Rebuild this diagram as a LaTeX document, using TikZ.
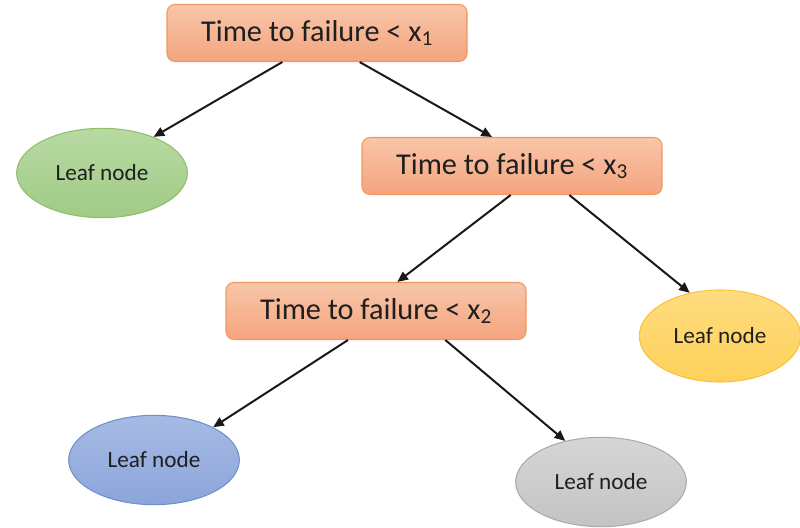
\documentclass[tikz,border=0pt]{standalone}
\usepackage{fontspec}
\setmainfont{Carlito}
\usepackage{xcolor}
\definecolor{SplitTop}{HTML}{F8C6A9}
\definecolor{SplitBottom}{HTML}{F4A47F}
\definecolor{SplitEdge}{HTML}{F0985F}
\definecolor{GreenTop}{HTML}{B8DAA3}
\definecolor{GreenBottom}{HTML}{A0CB86}
\definecolor{GreenEdge}{HTML}{8EC06C}
\definecolor{YellowTop}{HTML}{FFDC80}
\definecolor{YellowBottom}{HTML}{FFD15A}
\definecolor{YellowEdge}{HTML}{F9C33E}
\definecolor{BlueTop}{HTML}{A7BAE4}
\definecolor{BlueBottom}{HTML}{8BA5DA}
\definecolor{BlueEdge}{HTML}{6F90CF}
\definecolor{GrayTop}{HTML}{D6D6D6}
\definecolor{GrayBottom}{HTML}{C3C3C3}
\definecolor{GrayEdge}{HTML}{ABABAB}
\usetikzlibrary{shapes.geometric, arrows.meta}

\begin{document}
\begin{tikzpicture}[
  x=0.75pt, y=-0.75pt,
  split/.style={rectangle, rounded corners=6pt, draw=SplitEdge, top color=SplitTop, bottom color=SplitBottom, line width=0.8pt, minimum width=225pt, minimum height=42.75pt, text=black!88, font=\fontsize{22.7}{27}\selectfont},
  leaf/.style={ellipse, line width=0.8pt, minimum width=128pt, minimum height=67pt, text=black!88, font=\fontsize{17.4}{21}\selectfont},
  arrow/.style={-{Triangle[length=8pt,width=7pt]}, line width=1.5pt, black!90}
]
  \useasboundingbox (0,0) rectangle (800,528);

  % Splits
  \node[split] (root) at (317,33) {Time to failure < x\textsubscript{1}};
  \node[split] (splitC) at (512,166) {Time to failure < x\textsubscript{3}};
  \node[split] (splitB) at (376,311) {Time to failure < x\textsubscript{2}};

  % Leaves
  \node[leaf, draw=GreenEdge, top color=GreenTop, bottom color=GreenBottom] (leafA) at (102,173) {Leaf node};
  \node[leaf, draw=YellowEdge, top color=YellowTop, bottom color=YellowBottom, minimum width=121pt, minimum height=69pt] (leafC) at (720,336) {Leaf node};
  \node[leaf, draw=BlueEdge, top color=BlueTop, bottom color=BlueBottom] (leafB) at (154,460) {Leaf node};
  \node[leaf, draw=GrayEdge, top color=GrayTop, bottom color=GrayBottom] (leafD) at (601,482) {Leaf node};

  % Arrows
  \draw[arrow] ([xshift=-26pt]root.south) -- (leafA.35);
  \draw[arrow] ([xshift=32pt]root.south) -- ([xshift=-15pt]splitC.north);
  \draw[arrow] ([xshift=-1pt]splitC.south) -- ([xshift=16pt]splitB.north);
  \draw[arrow] ([xshift=43pt]splitC.south) -- (leafC.125);
  \draw[arrow] ([xshift=-21pt]splitB.south) -- (leafB.29);
  \draw[arrow] ([xshift=52pt]splitB.south) -- (leafD.131);
\end{tikzpicture}
\end{document}
